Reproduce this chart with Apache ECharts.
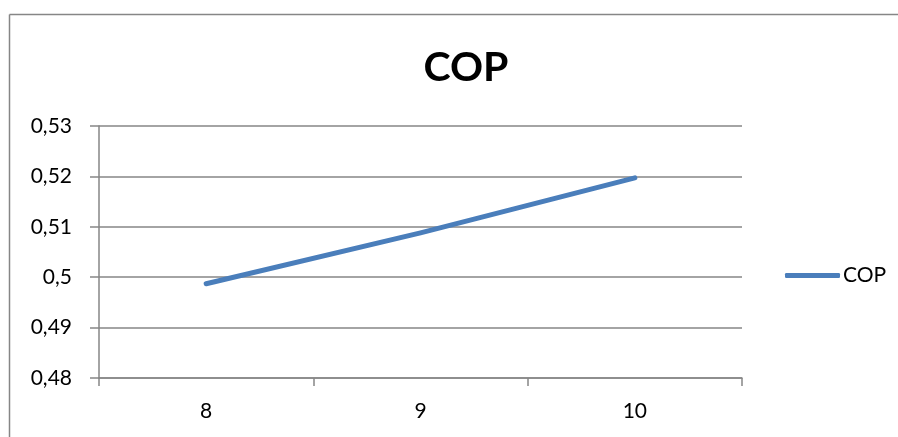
<!DOCTYPE html>
<html>
<head>
<meta charset="utf-8">
<script src="https://cdn.jsdelivr.net/npm/echarts@6/dist/echarts.min.js"></script>
<style>
 html, body { margin: 0; padding: 0; background: #fff; overflow: hidden; }
 #chart { width: 898px; height: 437px; }
</style>
</head>
<body>
<div id="chart"></div>
<script>
const categories = ['8', '9', '10']
const copValues = [0.4987, 0.5088, 0.5197]
const yMin = 0.48
const yMax = 0.53
const yStep = 0.01

const fontFamily = 'Lato, "Open Sans", sans-serif'
const gridColor = '#868686'

const fmtComma = (v) => String(Number(v.toFixed(2))).replace('.', ',')

const chart = echarts.init(document.getElementById('chart'))
chart.setOption({
 animation: false,
 backgroundColor: '#fff',
 title: {
  text: 'COP',
  left: 461,
  top: 42,
  textAlign: 'center',
  textStyle: { fontFamily, fontSize: 41, fontWeight: 'bold', color: '#000' }
 },
 legend: {
  left: 780,
  top: 260,
  icon: 'roundRect',
  itemWidth: 55,
  itemHeight: 5,
  textStyle: { fontFamily, fontSize: 21, color: '#000', padding: [0, 0, 0, -2] },
  data: ['COP']
 },
 graphic: [
  {
   type: 'line',
   shape: { x1: 9.5, y1: 14.5, x2: 9.5, y2: 437 },
   style: { stroke: gridColor, lineWidth: 1.5 },
   silent: true
  },
  {
   type: 'line',
   shape: { x1: 9.5, y1: 14.5, x2: 898, y2: 14.5 },
   style: { stroke: gridColor, lineWidth: 1.5 },
   silent: true
  }
 ],
 grid: { left: 99, right: 156, top: 126, bottom: 59, containLabel: false },
 xAxis: {
  type: 'category',
  data: categories,
  boundaryGap: true,
  axisLine: { lineStyle: { color: gridColor, width: 1.5 } },
  axisTick: { show: true, length: 8, lineStyle: { color: gridColor, width: 1.5 } },
  axisLabel: { margin: 23, fontFamily, fontSize: 21, color: '#000' }
 },
 yAxis: {
  type: 'value',
  min: yMin,
  max: yMax,
  interval: yStep,
  axisLine: { show: true, lineStyle: { color: gridColor, width: 1.5 } },
  axisTick: { show: true, length: 9, lineStyle: { color: gridColor, width: 1.5 } },
  splitLine: { lineStyle: { color: gridColor, width: 1.5 } },
  axisLabel: { margin: 27, fontFamily, fontSize: 21, color: '#000', formatter: fmtComma }
 },
 series: [{
  name: 'COP',
  type: 'line',
  data: copValues,
  symbol: 'none',
  color: '#4A7EBB',
  lineStyle: { width: 5, color: '#4A7EBB', cap: 'round', join: 'round' }
 }]
})
</script>
</body>
</html>
